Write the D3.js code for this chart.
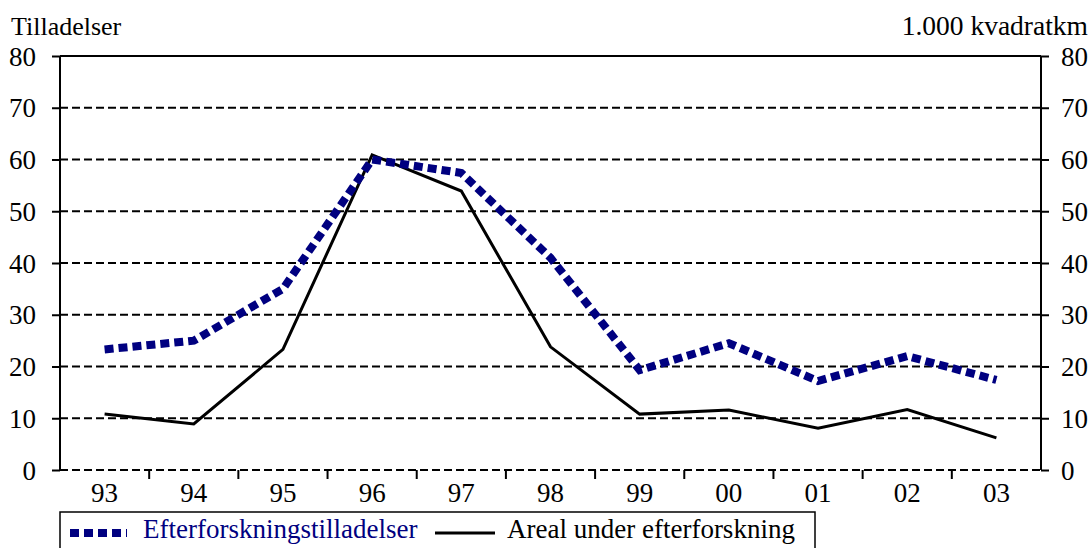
<!DOCTYPE html>
<html>
<head>
<meta charset="utf-8">
<script src="https://cdn.jsdelivr.net/npm/d3@7"></script>
<style>
  body { margin: 0; background: #fff; }
</style>
</head>
<body>
<svg id="chart" width="1091" height="548"></svg>
<script>
// -- data
var years = ["93", "94", "95", "96", "97", "98", "99", "00", "01", "02", "03"];
var tilladelser = [23.3, 25.0, 35.0, 60.0, 57.4, 41.0, 19.3, 24.5, 17.2, 22.0, 17.4];
var areal = [10.8, 8.9, 23.3, 60.9, 53.9, 23.8, 10.8, 11.6, 8.05, 11.7, 6.2];
var yTicks = [0, 10, 20, 30, 40, 50, 60, 70, 80];
var seriesNames = ["Efterforskningstilladelser", "Areal under efterforskning"];

(function(){
var navy = "#000080";
var serif = "'Liberation Serif', 'Times New Roman', serif";
var fontSize = "27px";
var svg = d3.select("#chart");

var pLeft = 60, pRight = 1041, pTop = 56, pBottom = 470;

var x = d3.scaleBand().domain(years).range([pLeft, pRight]);
var yL = d3.scaleLinear().domain([0, 80]).range([pBottom, pTop]);
var yR = d3.scaleLinear().domain([0, 80]).range([pBottom, pTop]);

// -- gridlines (dashed), top one solid
svg.append("g").attr("class", "grid").selectAll("line").data(yTicks).enter().append("line")
    .attr("x1", pLeft).attr("x2", pRight)
    .attr("y1", function(d){ return yL(d); })
    .attr("y2", function(d){ return yL(d); })
    .attr("stroke", "#000")
    .attr("stroke-width", 2)
    .attr("stroke-dasharray", function(d){ return d == 80 ? null : "8,4"; });

// -- left axis
var axL = svg.append("g").attr("transform", "translate(" + pLeft + ",0)")
    .call(d3.axisLeft(yL).tickValues(yTicks).tickSize(8).tickPadding(16));
// -- right axis
var axR = svg.append("g").attr("transform", "translate(" + pRight + ",0)")
    .call(d3.axisRight(yR).tickValues(yTicks).tickSize(8).tickPadding(12));

[axL, axR].forEach(function(ax){
    ax.select(".domain").attr("stroke-width", 2).attr("d", "M0," + pTop + "V" + pBottom);
    ax.selectAll(".tick line").attr("stroke-width", 2);
    ax.selectAll(".tick text")
        .style("font-family", serif).style("font-size", fontSize)
        .attr("fill", "#000").attr("dy", "0.34em");
});

// -- x axis: ticks on category boundaries, labels centred
var xAx = svg.append("g");
xAx.selectAll(".xtick").data(years.slice(1)).enter().append("line")
    .attr("x1", function(d){ return x(d); })
    .attr("x2", function(d){ return x(d); })
    .attr("y1", pBottom).attr("y2", pBottom + 9)
    .attr("stroke", "#000").attr("stroke-width", 2);
xAx.selectAll(".xlab").data(years).enter().append("text")
    .attr("x", function(d){ return x(d) + x.bandwidth()/2; })
    .attr("y", 502)
    .attr("text-anchor", "middle")
    .style("font-family", serif).style("font-size", fontSize)
    .text(function(d){ return d; });

// -- axis titles
svg.append("text").attr("x", 11).attr("y", 35)
    .style("font-family", serif).style("font-size", "26px").text("Tilladelser");
svg.append("text").attr("x", 1088).attr("y", 35).attr("text-anchor", "end")
    .style("font-family", serif).style("font-size", "27.5px").text("1.000 kvadratkm");

// -- lines
var lineL = d3.line()
    .x(function(d, i){ return x(years[i]) + x.bandwidth()/2; })
    .y(function(d){ return yL(d); });
var lineR = d3.line()
    .x(function(d, i){ return x(years[i]) + x.bandwidth()/2; })
    .y(function(d){ return yR(d); });

svg.append("path").datum(areal)
    .attr("d", lineR)
    .attr("fill", "none")
    .attr("stroke", "#000")
    .attr("stroke-width", 3);

svg.append("path").datum(tilladelser)
    .attr("d", lineL)
    .attr("fill", "none")
    .attr("stroke", navy)
    .attr("stroke-width", 8)
    .attr("stroke-dasharray", "9,5");

// -- legend
var lg = svg.append("g");
lg.append("rect").attr("x", 60).attr("y", 512).attr("width", 755).attr("height", 50)
    .attr("fill", "#fff").attr("stroke", "#000").attr("stroke-width", 1.5);
lg.append("line").attr("x1", 70).attr("x2", 127).attr("y1", 533).attr("y2", 533)
    .attr("stroke", navy).attr("stroke-width", 8).attr("stroke-dasharray", "9,5");
lg.append("text").attr("x", 143).attr("y", 538)
    .style("font-family", serif).style("font-size", fontSize).attr("fill", navy)
    .text(seriesNames[0]);
lg.append("line").attr("x1", 435).attr("x2", 495).attr("y1", 533).attr("y2", 533)
    .attr("stroke", "#000").attr("stroke-width", 3);
lg.append("text").attr("x", 507).attr("y", 538)
    .style("font-family", serif).style("font-size", fontSize).attr("fill", "#000")
    .text(seriesNames[1]);
})();
</script>
</body>
</html>
